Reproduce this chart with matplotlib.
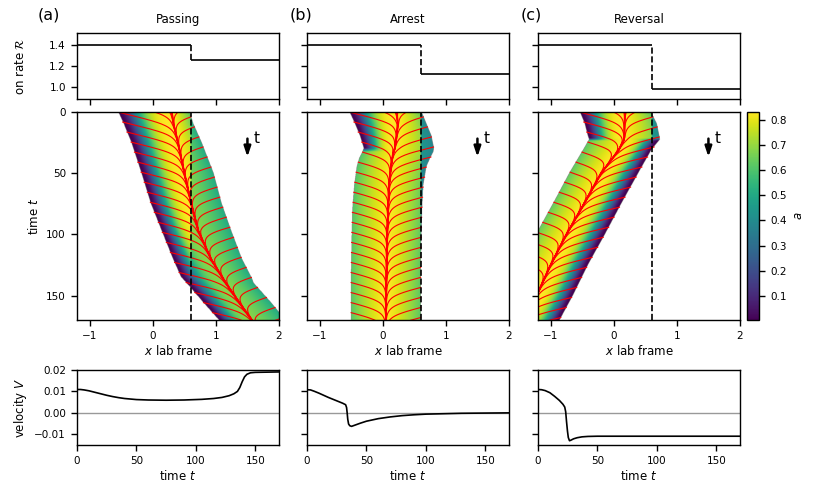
import numpy as np
import matplotlib
matplotlib.use("Agg")
import matplotlib.pyplot as plt

# ---- data ----
panel_labels = ["(a)", "(b)", "(c)"]
panel_titles = ["Passing", "Arrest", "Reversal"]

# on rate: left of the step / right of the step
x_step = 0.6
rate_left = 1.4
rate_right = [1.26, 1.12, 0.98]

# domain edges and central sink line (lab frame), per panel
t_a = [0, 10, 25, 50, 75, 97, 120, 135, 140, 155, 170]
left_a = [-0.55, -0.46, -0.34, -0.18, -0.03, 0.14, 0.32, 0.45, 0.54, 0.79, 1.05]
right_a = [0.58, 0.64, 0.77, 0.96, 1.09, 1.24, 1.41, 1.56, 1.60, 1.86, 2.10]
trunk_a = [0.30, 0.33, 0.40, 0.50, 0.61, 0.72, 0.92, 1.10, 1.16, 1.36, 1.57]

t_b = [0, 10, 20, 30, 33, 38, 45, 60, 80, 100, 130, 170]
left_b = [-0.53, -0.44, -0.36, -0.30, -0.32, -0.37, -0.41, -0.45, -0.48, -0.49, -0.50, -0.50]
right_b = [0.61, 0.69, 0.77, 0.81, 0.80, 0.75, 0.69, 0.64, 0.62, 0.61, 0.60, 0.60]
trunk_b = [0.22, 0.24, 0.22, 0.19, 0.17, 0.15, 0.13, 0.10, 0.085, 0.07, 0.06, 0.05]

t_c = [0, 10, 20, 23, 31, 50, 75, 100, 125, 150, 170]
left_c = [-0.54, -0.46, -0.41, -0.39, -0.48, -0.70, -0.96, -1.23, -1.50, -1.77, -1.99]
right_c = [0.58, 0.68, 0.72, 0.73, 0.60, 0.39, 0.12, -0.14, -0.41, -0.65, -0.86]
trunk_c = [0.18, 0.17, 0.17, 0.16, 0.08, -0.20, -0.47, -0.75, -1.00, -1.22, -1.44]

# value of a at the left / right edges over time
te_a = [0, 170]
edge_left_a = [0.005, 0.005]
edge_right_a = [0.62, 0.62]
te_b = [0, 30, 33, 170]
edge_left_b = [0.005, 0.005, 0.60, 0.62]
edge_right_b = [0.62, 0.62, 0.62, 0.62]
te_c = [0, 22, 24, 170]
edge_left_c = [0.005, 0.005, 0.62, 0.65]
edge_right_c = [0.62, 0.62, 0.005, 0.005]

# a level past the step, relative to the left side
a_ratio = [0.82, 0.62, 0.66]

# velocity of the domain
vt_a = [0, 3, 6, 10, 15, 20, 25, 30, 35, 40, 50, 60, 75, 90, 105, 115, 122, 128,
        132, 135, 137, 139, 141, 143, 146, 150, 160, 170]
v_a = [0.0109, 0.0109, 0.0107, 0.0103, 0.0096, 0.0089, 0.0082, 0.0076, 0.0071,
       0.0067, 0.0062, 0.0060, 0.0059, 0.0060, 0.0063, 0.0067, 0.0072, 0.0080,
       0.0089, 0.0100, 0.0118, 0.0145, 0.0168, 0.0180, 0.0187, 0.0189, 0.0190, 0.0191]
vt_b = [0, 3, 6, 10, 14, 18, 22, 26, 30, 32.5, 33.3, 33.8, 34.3, 35, 36, 37.5, 40,
        45, 50, 60, 70, 80, 90, 100, 115, 130, 150, 170]
v_b = [0.0108, 0.0107, 0.0101, 0.0092, 0.0082, 0.0072, 0.0063, 0.0054, 0.0045,
       0.0038, 0.0025, 0.0000, -0.0030, -0.0052, -0.0060, -0.0063, -0.0058,
       -0.0048, -0.0039, -0.0027, -0.0019, -0.0013, -0.0009, -0.0006, -0.0004,
       -0.0002, -0.0001, 0.0]
vt_c = [0, 3, 6, 10, 14, 18, 21, 22.5, 23.3, 24, 24.8, 25.5, 26.5, 27.5, 30, 33,
        37, 42, 50, 170]
v_c = [0.0109, 0.0108, 0.0104, 0.0094, 0.0077, 0.0058, 0.0040, 0.0027, 0.0005,
       -0.0040, -0.0085, -0.0115, -0.0130, -0.0128, -0.0121, -0.0116, -0.0112,
       -0.0110, -0.0109, -0.0109]

A_MAX = 0.83
X_LIM = (-1.2, 2.0)
T_MAX = 170

panels = [
    (t_a, left_a, right_a, trunk_a, te_a, edge_left_a, edge_right_a, vt_a, v_a),
    (t_b, left_b, right_b, trunk_b, te_b, edge_left_b, edge_right_b, vt_b, v_b),
    (t_c, left_c, right_c, trunk_c, te_c, edge_left_c, edge_right_c, vt_c, v_c),
]


def build_field(t_k, L_k, R_k, C_k, te, eL_k, eR_k, ratio):
    # a(x, t) inside the domain, masked outside
    xg = np.linspace(X_LIM[0], X_LIM[1], 700)
    tg = np.linspace(0, T_MAX, 600)
    X = xg[None, :]
    L = np.interp(tg, t_k, L_k)[:, None]
    R = np.interp(tg, t_k, R_k)[:, None]
    C = np.interp(tg, t_k, C_k)[:, None]
    eL = np.interp(tg, te, eL_k)[:, None]
    eR = np.interp(tg, te, eR_k)[:, None]
    left = X < C
    s = np.where(left, (C - X) / (C - L), (X - C) / (R - C))
    s = np.clip(s, 0, 1)
    e = np.where(left, eL, eR)
    # rear (dark) edges get a wider, flatter low band
    f = np.clip(1 - e / 0.55, 0, 1)
    p = 1.5 + 2.0 * f
    q = 1.0 + 1.4 * f
    a = e + (A_MAX - e) * (1 - s ** p) ** q
    a = np.where(X > x_step, a * ratio, a)
    a = np.ma.masked_where((X < L) | (X > R), a)
    return a


def draw_branches(ax, t_k, L_k, R_k, C_k, dt=8.2, v0=0.075, delta=0.28):
    # material lines drifting in from the edges onto the sink line
    h = 0.2
    for edge_k, off in [(L_k, 0.0), (R_k, 4.0)]:
        for t0 in np.arange(-3 * dt + off, T_MAX, dt):
            ts = max(t0, 0)
            d = np.interp(ts, t_k, edge_k) - np.interp(ts, t_k, C_k)
            tt = np.arange(t0, min(t0 + 90, T_MAX + 2), h)
            dd = np.empty_like(tt)
            for k in range(len(tt)):
                dd[k] = d
                d = d - h * v0 * np.tanh(d / delta)
            xx = np.interp(tt, t_k, C_k) + dd
            ax.plot(xx, tt, color="red", lw=0.8, zorder=2)
    tt = np.linspace(0, T_MAX, 300)
    ax.plot(np.interp(tt, t_k, C_k), tt, color="red", lw=1.3, zorder=2)


fig = plt.figure(figsize=(8.17, 4.98), dpi=100)
W, H = 817.0, 498.0
col_left = [77, 307, 538]
label_off = [39, 17, 17]
col_w = 202
rows = {"top": (33, 99), "mid": (112, 320), "bot": (370, 445)}


def box(x0, y0, y1, w=col_w):
    return [x0 / W, 1 - y1 / H, w / W, (y1 - y0) / H]


plt.rcParams["axes.linewidth"] = 1.0
tick_kw = dict(labelsize=7.5, length=4.5, width=1.0)

for i, (t_k, L_k, R_k, C_k, te, eL_k, eR_k, vt, vv) in enumerate(panels):
    ax_top = fig.add_axes(box(col_left[i], *rows["top"]))
    ax_mid = fig.add_axes(box(col_left[i], *rows["mid"]))
    ax_bot = fig.add_axes(box(col_left[i], *rows["bot"]))

    # on rate step
    ax_top.hlines(rate_left, X_LIM[0], x_step, color="k", lw=1.2)
    ax_top.hlines(rate_right[i], x_step, X_LIM[1], color="k", lw=1.2)
    ax_top.vlines(x_step, rate_right[i], rate_left, color="k", lw=1.2, linestyles="--")
    ax_top.set_xlim(*X_LIM)
    ax_top.set_ylim(0.886, 1.514)
    ax_top.set_xticks([-1, 0, 1, 2])
    ax_top.set_xticklabels([])
    ax_top.set_yticks([1.0, 1.2, 1.4])
    ax_top.set_title(panel_titles[i], fontsize=8.5, pad=7)
    ax_top.tick_params(**tick_kw)

    # kymograph
    a = build_field(t_k, L_k, R_k, C_k, te, eL_k, eR_k, a_ratio[i])
    im = ax_mid.imshow(a, extent=[X_LIM[0], X_LIM[1], 0, T_MAX], origin="lower",
                       aspect="auto", cmap="viridis", vmin=0.005, vmax=A_MAX,
                       interpolation="bilinear", zorder=1)
    draw_branches(ax_mid, t_k, L_k, R_k, C_k)
    ax_mid.axvline(x_step, color="k", ls="--", lw=1.2, zorder=3)
    ax_mid.annotate("", xy=(1.5, 39), xytext=(1.5, 19.5),
                    arrowprops=dict(arrowstyle="-|>,head_width=0.2,head_length=0.6",
                                    color="k", lw=1.8, mutation_scale=10))
    ax_mid.text(1.6, 22, "t", fontsize=11, ha="left", va="center")
    ax_mid.set_xlim(*X_LIM)
    ax_mid.set_ylim(T_MAX, 0)
    ax_mid.set_xticks([-1, 0, 1, 2])
    ax_mid.set_yticks([0, 50, 100, 150])
    ax_mid.set_xlabel("$x$ lab frame", fontsize=8.5, labelpad=2)
    ax_mid.tick_params(**tick_kw)

    # velocity
    ax_bot.axhline(0, color="0.6", lw=1.0)
    ax_bot.plot(vt, vv, color="k", lw=1.2)
    ax_bot.set_xlim(0, T_MAX)
    ax_bot.set_ylim(-0.015, 0.02)
    ax_bot.set_xticks([0, 50, 100, 150])
    ax_bot.set_yticks([-0.01, 0.0, 0.01, 0.02])
    ax_bot.set_xlabel("time $t$", fontsize=8.5, labelpad=2)
    ax_bot.tick_params(**tick_kw)

    if i == 0:
        ax_top.set_ylabel(r"on rate $\mathcal{R}$", fontsize=8.5)
        ax_top.yaxis.set_label_coords(-0.25, 0.5)
        ax_mid.set_ylabel("time $t$", fontsize=8.5)
        ax_bot.set_ylabel("velocity $V$", fontsize=8.5)
    else:
        ax_top.set_yticklabels([])
        ax_mid.set_yticklabels([])
        ax_bot.set_yticklabels([])

    fig.text((col_left[i] - label_off[i]) / W, 1 - 15 / H, panel_labels[i],
             fontsize=11.5, ha="left", va="center")

# colorbar
cax = fig.add_axes(box(747, *rows["mid"], w=12))
cb = fig.colorbar(im, cax=cax)
cb.set_ticks([0.1, 0.2, 0.3, 0.4, 0.5, 0.6, 0.7, 0.8])
cb.ax.tick_params(**tick_kw)
cb.set_label("$a$", fontsize=8.5)
cb.outline.set_linewidth(1.0)

fig.savefig("out.png", dpi=100)
